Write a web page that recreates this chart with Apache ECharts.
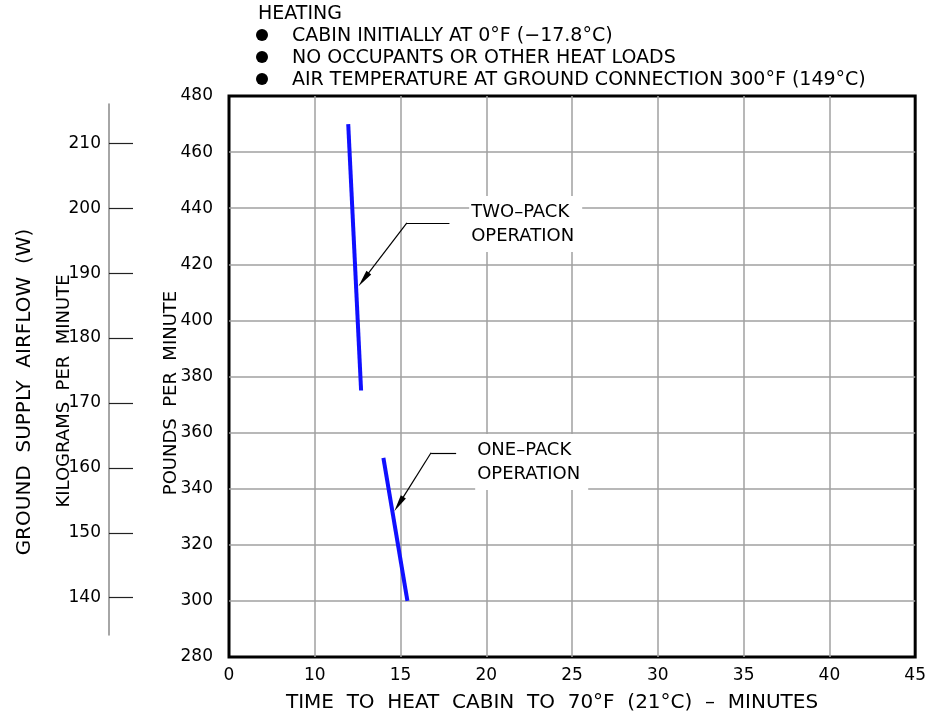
<!DOCTYPE html>
<html>
<head>
<meta charset="utf-8">
<script src="https://cdn.jsdelivr.net/npm/echarts@6/dist/echarts.min.js"></script>
<style>
  html, body { margin: 0; padding: 0; background: #fff; }
  #chart { width: 929px; height: 719px; }
</style>
</head>
<body>
<div id="chart"></div>
<script>
// Time axis is broken: 0–10 min is squeezed into one 5-minute step.
const xTickLabels = ['0', '10', '15', '20', '25', '30', '35', '40', '45'];
const kgTicks = [140, 150, 160, 170, 180, 190, 200, 210];

// Airflow lines: minutes to heat vs. pounds per minute
const twoPackMinutes = [11.95, 12.7];
const twoPackLbPerMin = [470, 375];
const onePackMinutes = [14.0, 15.4];
const onePackLbPerMin = [351, 300];

// Callout leaders: text end, elbow, arrowhead centre
const twoPackLeaderMin = [17.85, 15.37, 12.85];
const twoPackLeaderLb = [434.8, 434.8, 414.6];
const onePackLeaderMin = [18.24, 16.78, 14.9];
const onePackLeaderLb = [352.8, 352.8, 334.5];

const twoPackLabelAt = [19.0, 434.4];
const onePackLabelAt = [19.35, 349.5];

const headerTitle = 'HEATING';
const headerNotes = [
  'CABIN INITIALLY AT 0°F (−17.8°C)',
  'NO OCCUPANTS OR OTHER HEAT LOADS',
  'AIR TEMPERATURE AT GROUND CONNECTION 300°F (149°C)'
];

const FONT = '"DejaVu Sans", sans-serif';

// minutes -> position on the broken time axis
function axisPos(m) { return m <= 10 ? m / 2 : m - 5; }
function pairs(xs, ys) { return xs.map((x, i) => [axisPos(x), ys[i]]); }

function leaderLines(xs, ys) {
  const p = pairs(xs, ys);
  return [
    [{ coord: p[0], symbol: 'none' }, { coord: p[1], symbol: 'none' }],
    [{ coord: p[1], symbol: 'none' }, { coord: p[2], symbol: 'triangle', symbolSize: [6, 17] }]
  ];
}

const chart = echarts.init(document.getElementById('chart'), null, { renderer: 'canvas' });

const textStyleBase = { fontFamily: FONT, fill: '#000' };

const graphics = [
  { type: 'text', left: 258, top: 5, style: Object.assign({ text: headerTitle, fontSize: 19 }, textStyleBase) }
];
headerNotes.forEach((t, i) => {
  graphics.push({ type: 'circle', shape: { cx: 262, cy: 35 + i * 22, r: 6 }, style: { fill: '#000' } });
  graphics.push({ type: 'text', left: 292, top: 27 + i * 22, style: Object.assign({ text: t, fontSize: 19 }, textStyleBase) });
});
graphics.push({
  type: 'text', x: 552, y: 703,
  style: Object.assign({ text: 'TIME  TO  HEAT  CABIN  TO  70°F  (21°C)  –  MINUTES', fontSize: 20, align: 'center', verticalAlign: 'middle' }, textStyleBase)
});
graphics.push({
  type: 'text', x: 171, y: 393, rotation: Math.PI / 2,
  style: Object.assign({ text: 'POUNDS  PER  MINUTE', fontSize: 18, align: 'center', verticalAlign: 'middle' }, textStyleBase)
});
graphics.push({
  type: 'text', x: 64, y: 391, rotation: Math.PI / 2,
  style: Object.assign({ text: 'KILOGRAMS  PER  MINUTE', fontSize: 18, align: 'center', verticalAlign: 'middle' }, textStyleBase)
});
graphics.push({
  type: 'text', x: 25, y: 392, rotation: Math.PI / 2,
  style: Object.assign({ text: 'GROUND  SUPPLY  AIRFLOW  (W)', fontSize: 20, align: 'center', verticalAlign: 'middle' }, textStyleBase)
});

function calloutLabel(pos, text) {
  return {
    symbol: 'rect', symbolSize: 0,
    data: [{ coord: [axisPos(pos[0]), pos[1]] }],
    label: {
      show: true, position: 'right', distance: 0,
      formatter: text, align: 'left',
      fontFamily: FONT, fontSize: 18, lineHeight: 24, color: '#000',
      backgroundColor: '#fff', padding: [4, 8, 4, 2]
    }
  };
}

const gridLine = { show: true, showMinLine: false, showMaxLine: false, lineStyle: { color: '#a0a0a0', width: 1.5 } };

const option = {
  backgroundColor: '#fff',
  animation: false,
  graphic: graphics,
  grid: [
    { left: 229, right: 12, top: 96, bottom: 62, show: true, borderColor: '#000', borderWidth: 3, backgroundColor: 'transparent' },
    { left: 109, width: 1, top: 104, bottom: 84 }
  ],
  xAxis: [
    {
      type: 'value', gridIndex: 0, min: 0, max: 40, interval: 5,
      axisLine: { show: false }, axisTick: { show: false },
      splitLine: gridLine,
      axisLabel: {
        margin: 10, fontFamily: FONT, fontSize: 17, color: '#000',
        formatter: v => xTickLabels[Math.round(v / 5)]
      }
    },
    { type: 'value', gridIndex: 1, show: false, min: 0, max: 1 }
  ],
  yAxis: [
    {
      type: 'value', gridIndex: 0, min: 280, max: 480, interval: 20,
      axisLine: { show: false }, axisTick: { show: false },
      splitLine: gridLine,
      axisLabel: { margin: 16, fontFamily: FONT, fontSize: 17, color: '#000' }
    },
    {
      type: 'value', gridIndex: 1, min: 134.25, max: 216.06,
      axisLine: { show: true, lineStyle: { color: '#888', width: 1.5 } },
      axisTick: { show: true, inside: true, length: 24, customValues: kgTicks, lineStyle: { color: '#222', width: 1.2 } },
      axisLabel: { margin: 8, fontFamily: FONT, fontSize: 17, color: '#000', customValues: kgTicks },
      splitLine: { show: false }
    }
  ],
  series: [
    {
      name: 'TWO–PACK OPERATION', type: 'line', xAxisIndex: 0, yAxisIndex: 0,
      data: pairs(twoPackMinutes, twoPackLbPerMin),
      symbol: 'none', lineStyle: { color: '#1010ff', width: 4 }, z: 3,
      markLine: {
        silent: true, symbol: 'none', label: { show: false },
        itemStyle: { color: '#000' },
        lineStyle: { color: '#000', width: 1.2, type: 'solid' },
        data: leaderLines(twoPackLeaderMin, twoPackLeaderLb)
      },
      markPoint: calloutLabel(twoPackLabelAt, 'TWO–PACK\nOPERATION')
    },
    {
      name: 'ONE–PACK OPERATION', type: 'line', xAxisIndex: 0, yAxisIndex: 0,
      data: pairs(onePackMinutes, onePackLbPerMin),
      symbol: 'none', lineStyle: { color: '#1010ff', width: 4 }, z: 3,
      markLine: {
        silent: true, symbol: 'none', label: { show: false },
        itemStyle: { color: '#000' },
        lineStyle: { color: '#000', width: 1.2, type: 'solid' },
        data: leaderLines(onePackLeaderMin, onePackLeaderLb)
      },
      markPoint: calloutLabel(onePackLabelAt, 'ONE–PACK\nOPERATION')
    }
  ]
};

chart.setOption(option);
</script>
</body>
</html>
